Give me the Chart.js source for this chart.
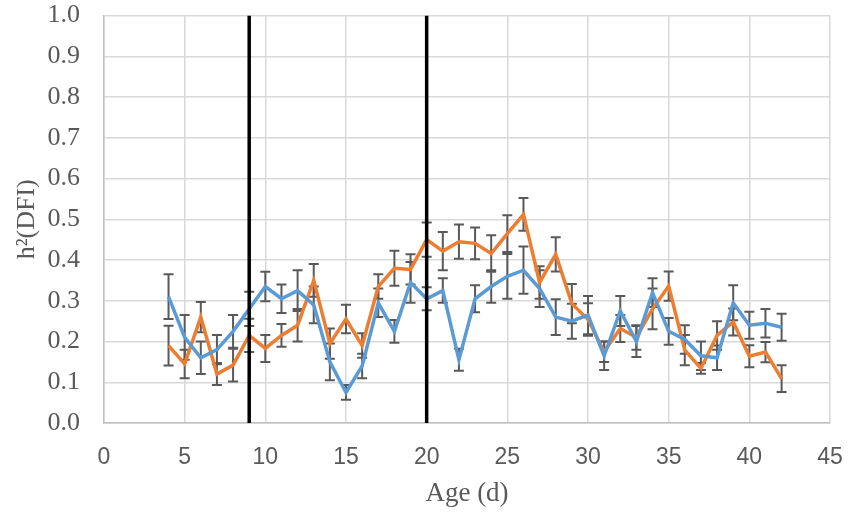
<!DOCTYPE html>
<html>
<head>
<meta charset="utf-8">
<script src="https://cdn.jsdelivr.net/npm/chart.js@4/dist/chart.umd.min.js"></script>
<style>
  html, body { margin: 0; padding: 0; background: #fff; }
  #wrap { width: 855px; height: 515px; }
</style>
</head>
<body>
<div id="wrap"><canvas id="h2Chart" width="855" height="515"></canvas></div>
<script>
// Edad (días)
const ages = [4, 5, 6, 7, 8, 9, 10, 11, 12, 13, 14, 15, 16, 17, 18, 19, 20, 21, 22, 23,
  24, 25, 26, 27, 28, 29, 30, 31, 32, 33, 34, 35, 36, 37, 38, 39, 40, 41, 42];

// Serie azul
const blueValues = [0.31, 0.21, 0.16, 0.18, 0.225, 0.28, 0.335, 0.305, 0.325, 0.29,
  0.15, 0.075, 0.14, 0.295, 0.225, 0.345, 0.305, 0.325, 0.155, 0.305,
  0.335, 0.36, 0.375, 0.33, 0.26, 0.25, 0.265, 0.165, 0.275, 0.2,
  0.32, 0.225, 0.205, 0.165, 0.16, 0.295, 0.24, 0.245, 0.235];
const blueErrors = [0.055, 0.055, 0.04, 0.036, 0.04, 0.042, 0.036, 0.035, 0.05, 0.045,
  0.045, 0.018, 0.03, 0.035, 0.028, 0.05, 0.028, 0.03, 0.027, 0.033,
  0.04, 0.055, 0.058, 0.045, 0.044, 0.043, 0.047, 0.035, 0.037, 0.038,
  0.035, 0.033, 0.035, 0.035, 0.03, 0.043, 0.033, 0.035, 0.033];

// Serie naranja
const orangeValues = [0.19, 0.145, 0.26, 0.12, 0.142, 0.215, 0.183, 0.215, 0.24, 0.35,
  0.195, 0.255, 0.19, 0.335, 0.38, 0.377, 0.45, 0.422, 0.445, 0.441,
  0.416, 0.465, 0.512, 0.345, 0.414, 0.293, 0.254, 0.175, 0.232, 0.21,
  0.28, 0.336, 0.179, 0.134, 0.215, 0.248, 0.164, 0.174, 0.109];
const orangeErrors = [0.049, 0.035, 0.037, 0.027, 0.04, 0.041, 0.033, 0.028, 0.04, 0.04,
  0.037, 0.035, 0.03, 0.03, 0.043, 0.037, 0.042, 0.047, 0.042, 0.039,
  0.045, 0.045, 0.04, 0.04, 0.042, 0.048, 0.04, 0.025, 0.033, 0.03,
  0.05, 0.036, 0.037, 0.013, 0.035, 0.033, 0.027, 0.025, 0.033];

// Líneas verticales (edad)
const markerAges = [9, 20];

const xTickMin = 0, xTickMax = 45, xTickStep = 5;
const yTickMin = 0, yTickMax = 1, yTickStep = 0.1;

const toPoints = (xs, ys) => xs.map((x, i) => ({ x: x, y: ys[i] }));

// Barras de error dibujadas con las escalas del gráfico
const errorBarPlugin = {
  id: 'errorBars',
  beforeDatasetsDraw(chart) {
    const ctx = chart.ctx;
    const xs = chart.scales.x, ys = chart.scales.y;
    ctx.save();
    ctx.strokeStyle = '#595959';
    ctx.lineWidth = 2;
    chart.data.datasets.forEach(ds => {
      if (!ds.errors) return;
      ds.data.forEach((p, i) => {
        const e = ds.errors[i];
        const px = xs.getPixelForValue(p.x);
        const top = ys.getPixelForValue(p.y + e);
        const bot = ys.getPixelForValue(p.y - e);
        ctx.beginPath();
        ctx.moveTo(px, top); ctx.lineTo(px, bot);
        ctx.moveTo(px - 5, top); ctx.lineTo(px + 5, top);
        ctx.moveTo(px - 5, bot); ctx.lineTo(px + 5, bot);
        ctx.stroke();
      });
    });
    ctx.restore();
  }
};

const serif = '"Liberation Serif", "Times New Roman", serif';
const sans = '"Liberation Sans", Arial, sans-serif';
const markerSets = markerAges.map(a => ({
  data: [{ x: a, y: yTickMin }, { x: a, y: yTickMax }],
  borderColor: '#000',
  borderWidth: 3.5,
  pointRadius: 0,
  fill: false
}));

new Chart(document.getElementById('h2Chart').getContext('2d'), {
  type: 'line',
  data: {
    datasets: [
      ...markerSets,
      {
        label: 'Azul',
        data: toPoints(ages, blueValues),
        errors: blueErrors,
        borderColor: '#5B9BD5',
        borderWidth: 3.5,
        pointRadius: 0,
        tension: 0,
        fill: false
      },
      {
        label: 'Naranja',
        data: toPoints(ages, orangeValues),
        errors: orangeErrors,
        borderColor: '#ED7D31',
        borderWidth: 3.5,
        pointRadius: 0,
        tension: 0,
        fill: false
      }
    ]
  },
  options: {
    responsive: false,
    animation: false,
    layout: { padding: { top: 0, right: 25, left: 0, bottom: 0 } },
    plugins: { legend: { display: false }, tooltip: { enabled: false } },
    scales: {
      x: {
        type: 'linear',
        min: xTickMin,
        max: xTickMax,
        afterFit(scale) { scale.height = 92; },
        ticks: {
          stepSize: xTickStep,
          padding: 0,
          color: '#595959',
          font: { family: sans, size: 23 }
        },
        grid: { color: '#D9D9D9', lineWidth: 1.5, drawTicks: true, tickLength: 21, tickColor: 'rgba(0,0,0,0)' },
        border: { color: '#BFBFBF', width: 1.5 },
        title: {
          display: true,
          text: 'Age (d)',
          color: '#595959',
          font: { family: serif, size: 27 },
          padding: { top: 0, bottom: 5 }
        }
      },
      y: {
        min: yTickMin,
        max: yTickMax,
        afterFit(scale) { scale.width = 104; },
        ticks: {
          stepSize: yTickStep,
          padding: 0,
          color: '#595959',
          font: { family: serif, size: 26 },
          callback: v => Number(v).toFixed(1)
        },
        grid: { color: '#D9D9D9', lineWidth: 1.5, drawTicks: true, tickLength: 24, tickColor: 'rgba(0,0,0,0)' },
        border: { color: '#BFBFBF', width: 1.5 },
        title: {
          display: true,
          text: 'h²(DFI)',
          color: '#595959',
          font: { family: serif, size: 26 },
          padding: { top: 12, bottom: 0 }
        }
      }
    }
  },
  plugins: [errorBarPlugin]
});
</script>
</body>
</html>
